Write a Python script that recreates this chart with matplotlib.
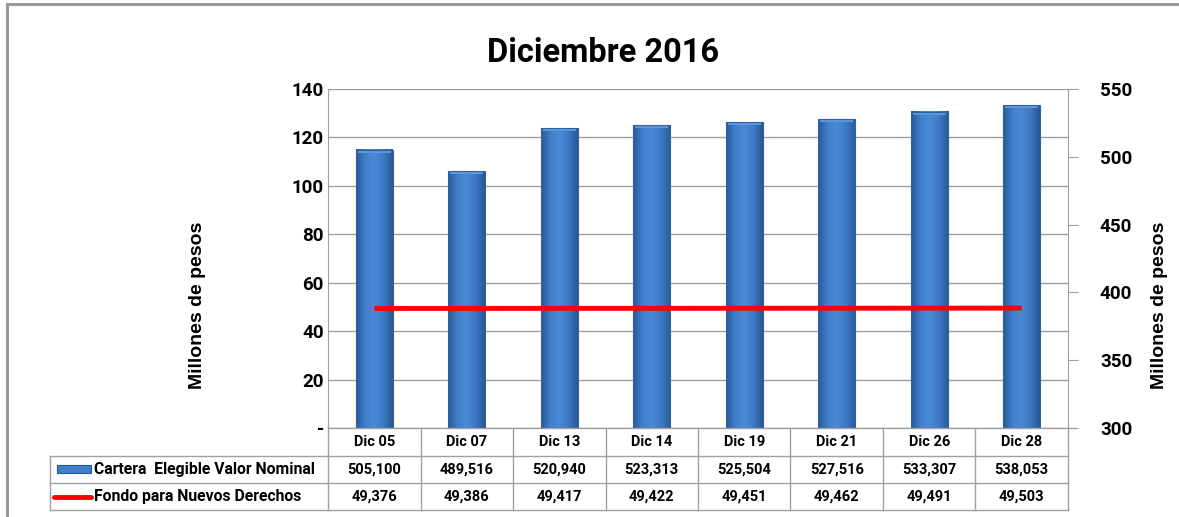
import matplotlib
matplotlib.use("Agg")
import matplotlib.pyplot as plt
import numpy as np
from matplotlib import transforms
from matplotlib.lines import Line2D
from matplotlib.patches import Rectangle
from matplotlib.colors import LinearSegmentedColormap

# data (millones de pesos)
fechas = ['Dic 05', 'Dic 07', 'Dic 13', 'Dic 14', 'Dic 19', 'Dic 21', 'Dic 26', 'Dic 28']
cartera = [505.100, 489.516, 520.940, 523.313, 525.504, 527.516, 533.307, 538.053]
fondo = [49.376, 49.386, 49.417, 49.422, 49.451, 49.462, 49.491, 49.503]
cartera_txt = ['505,100', '489,516', '520,940', '523,313', '525,504', '527,516', '533,307', '538,053']
fondo_txt = ['49,376', '49,386', '49,417', '49,422', '49,451', '49,462', '49,491', '49,503']
left_ticks = [0, 20, 40, 60, 80, 100, 120, 140]
left_labels = ['-', '20', '40', '60', '80', '100', '120', '140']
right_ticks = [300, 350, 400, 450, 500, 550]

W, H = 1179, 517
fig = plt.figure(figsize=(W / 100, H / 100), dpi=100)

def fx(p):
    return p / W

def fy(p):
    return 1 - p / H

grey = '#a0a0a0'
calib = ['Roboto', 'DejaVu Sans']

# outer frame (cut at right and bottom)
fig.add_artist(Line2D([fx(7), fx(7)], [fy(4), 0], color='#9a9a9a', lw=2.2))
fig.add_artist(Line2D([fx(7), 1], [fy(4), fy(4)], color='#9a9a9a', lw=2.2))

left, right, top, bottom = 328, 1068, 89, 428
ax = fig.add_axes([fx(left), fy(bottom), fx(right - left), (bottom - top) / H])
ax2 = ax.twinx()
ax3 = ax.twinx()

x = np.arange(len(fechas))
lab_y = (bottom - 305) / (bottom - top)

# left axis: grid + labels
ax.set_xlim(-0.5, len(fechas) - 0.5)
ax.set_ylim(0, 140)
ax.set_yticks(left_ticks)
ax.set_yticklabels(left_labels, fontfamily=calib, fontweight='bold', fontsize=13.5)
ax.tick_params(axis='y', length=0, pad=3)
ax.set_xticks([])
ax.grid(axis='y', color=grey, lw=1)
for s in ['top', 'right', 'bottom']:
    ax.spines[s].set_visible(False)
ax.spines['left'].set_color(grey)
ax.set_ylabel('Millones de pesos', fontfamily='Liberation Sans', fontweight='bold', fontsize=14)
ax.yaxis.set_label_coords(-(left - 206) / (right - left), lab_y)

# right axis: bars
cmap = LinearSegmentedColormap.from_list('barra', ['#2a5896', '#3f7fcc', '#4a8ad6', '#3c79c4', '#2a5896'])
grad = np.linspace(0, 1, 64).reshape(1, -1)
bw = 0.40
for xi, v in zip(x, cartera):
    ax2.imshow(grad, cmap=cmap, extent=[xi - bw / 2, xi + bw / 2, 300, v], aspect='auto', zorder=2)
    ax2.add_patch(Rectangle((xi - bw / 2 + 0.02, v - 2.2), bw - 0.04, 2.2, color='#5d97de', lw=0, zorder=3))
    ax2.add_patch(Rectangle((xi - bw / 2, 300), bw, v - 300, fill=False, edgecolor='#2f629f', lw=0.8, zorder=4))
ax2.set_xlim(-0.5, len(fechas) - 0.5)
ax2.set_ylim(300, 550)
ax2.set_yticks(right_ticks)
ax2.set_yticklabels([str(t) for t in right_ticks], fontfamily=calib, fontweight='bold', fontsize=13.5)
ax2.tick_params(axis='y', length=7, color=grey, pad=16)
for s in ['top', 'left', 'bottom']:
    ax2.spines[s].set_visible(False)
ax2.spines['right'].set_color(grey)
ax2.set_ylabel('Millones de pesos', fontfamily='Liberation Sans', fontweight='bold', fontsize=14)
ax2.yaxis.set_label_coords(1 + (1151 - right) / (right - left), lab_y)

# line on the left scale
ax3.plot(x, fondo, color='#ff0000', lw=3.5, solid_capstyle='butt')
ax3.set_xlim(-0.5, len(fechas) - 0.5)
ax3.set_ylim(0, 140)
ax3.axis('off')

fig.text(fx(603), fy(53), 'Diciembre 2016', ha='center', va='center',
         fontfamily=calib, fontweight='bold', fontsize=23.5)

# data table below the plot
tr = transforms.blended_transform_factory(ax.transData, fig.transFigure)
r0, r1, r2, r3 = 428, 456, 483, 510
leg_left = fx(50)
kw = dict(color=grey, lw=1, clip_on=False)
fig.add_artist(Line2D([fx(left), fx(right + 7)], [fy(r0), fy(r0)], **kw))
fig.add_artist(Line2D([leg_left, fx(right)], [fy(r1), fy(r1)], **kw))
fig.add_artist(Line2D([leg_left, fx(right)], [fy(r2), fy(r2)], **kw))
fig.add_artist(Line2D([leg_left, fx(right)], [fy(r3), fy(r3)], **kw))
fig.add_artist(Line2D([leg_left, leg_left], [fy(r1), fy(r3)], **kw))
for i in range(len(fechas) + 1):
    ax.add_line(Line2D([i - 0.5, i - 0.5], [fy(r0), fy(r3)], transform=tr, **kw))

cell = dict(ha='center', va='center', fontfamily=calib, fontweight='bold', fontsize=10.5, transform=tr)
for i in range(len(fechas)):
    ax.text(i, fy((r0 + r1) / 2), fechas[i], **cell)
    ax.text(i, fy((r1 + r2) / 2), cartera_txt[i], **cell)
    ax.text(i, fy((r2 + r3) / 2), fondo_txt[i], **cell)

# legend keys
fig.add_artist(Rectangle((fx(57), fy(473)), fx(34), 8 / H, facecolor='#3f7fcc', edgecolor='#2a5896', lw=0.8))
fig.add_artist(Line2D([fx(54), fx(91)], [fy(497), fy(497)], color='#ff0000', lw=3.5, solid_capstyle='round'))
fig.text(fx(94), fy((r1 + r2) / 2), 'Cartera  Elegible Valor Nominal', ha='left', va='center',
         fontfamily=calib, fontweight='bold', fontsize=11.3)
fig.text(fx(94), fy((r2 + r3) / 2), 'Fondo para Nuevos Derechos', ha='left', va='center',
         fontfamily=calib, fontweight='bold', fontsize=11.3)

fig.savefig('out.png', dpi=100)
